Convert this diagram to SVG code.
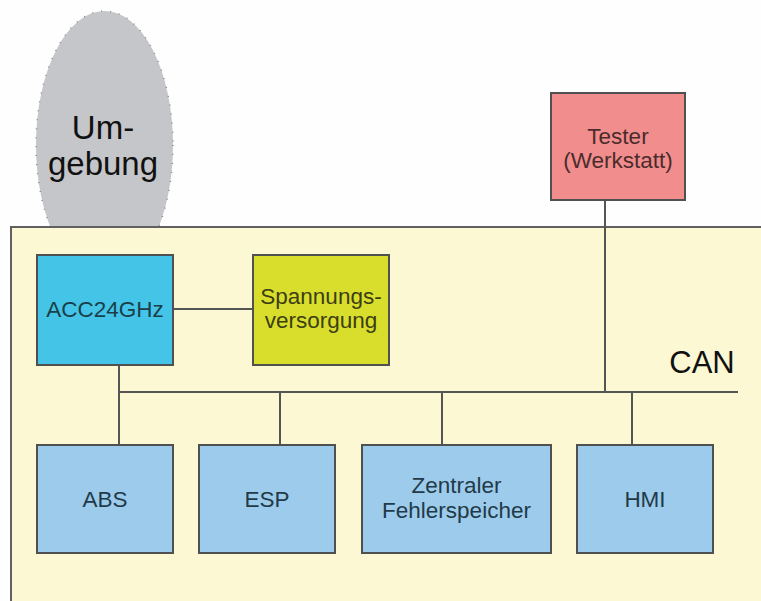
<svg xmlns="http://www.w3.org/2000/svg" width="761" height="601" viewBox="0 0 761 601">
  <style>
    .lbl { font-family: "Liberation Sans", Arial, sans-serif; font-size: 22.5px; text-anchor: middle; }
    .box { stroke: #505050; stroke-width: 2; }
    .ecu { fill: #9dcbec; }
    .wire { stroke: #555555; stroke-width: 2; fill: none; }
  </style>
  <rect width="761" height="601" fill="#fefefe"/>

  <!-- environment -->
  <g id="umgebung">
    <ellipse cx="104.5" cy="145" rx="68.5" ry="134" fill="#c5c6c9" stroke="#8a8a8a" stroke-width="1.5" stroke-dasharray="1 8"/>
    <text x="103" y="139" font-family="Liberation Sans, Arial, sans-serif" font-size="33" text-anchor="middle" fill="#111">Um-</text>
    <text x="103" y="175" font-family="Liberation Sans, Arial, sans-serif" font-size="33" text-anchor="middle" fill="#111">gebung</text>
  </g>

  <!-- vehicle area -->
  <g id="fahrzeug">
    <rect x="11" y="227" width="760" height="390" fill="#fbf8d3" stroke="#606060" stroke-width="2"/>
  </g>

  <g id="connectors">
    <line class="wire" x1="173" y1="309" x2="253" y2="309"/>
    <line class="wire" x1="119" y1="365" x2="119" y2="445"/>
    <line class="wire" x1="119" y1="392" x2="738" y2="392"/>
    <line class="wire" x1="605" y1="200" x2="605" y2="392"/>
    <line class="wire" x1="280" y1="392" x2="280" y2="445"/>
    <line class="wire" x1="442" y1="392" x2="442" y2="445"/>
    <line class="wire" x1="632" y1="392" x2="632" y2="445"/>
  </g>

  <g id="can-label">
    <text x="702" y="373" font-family="Liberation Sans, Arial, sans-serif" font-size="31" text-anchor="middle" fill="#111">CAN</text>
  </g>

  <g id="tester">
    <rect class="box" x="551" y="93" width="134" height="107" fill="#f28d8e"/>
    <text class="lbl" x="618" y="144" fill="#4a2c2c">Tester</text>
    <text class="lbl" x="618" y="168" fill="#4a2c2c">(Werkstatt)</text>
  </g>

  <g id="acc">
    <rect class="box" x="37" y="255" width="136" height="110" fill="#44c5e8"/>
    <text class="lbl" x="105" y="317" fill="#1b3f4a">ACC24GHz</text>
  </g>

  <g id="spannung">
    <rect class="box" x="253" y="255" width="136" height="110" fill="#d9de2d"/>
    <text class="lbl" x="321" y="304" fill="#3c3e12">Spannungs-</text>
    <text class="lbl" x="321" y="328" fill="#3c3e12">versorgung</text>
  </g>

  <g id="abs">
    <rect class="box ecu" x="37" y="445" width="136" height="108"/>
    <text class="lbl" x="105" y="507" fill="#223a48">ABS</text>
  </g>

  <g id="esp">
    <rect class="box ecu" x="199" y="445" width="136" height="108"/>
    <text class="lbl" x="267" y="507" fill="#223a48">ESP</text>
  </g>

  <g id="fehlerspeicher">
    <rect class="box ecu" x="362" y="445" width="189" height="108"/>
    <text class="lbl" x="456.5" y="493" fill="#223a48">Zentraler</text>
    <text class="lbl" x="456.5" y="518" fill="#223a48">Fehlerspeicher</text>
  </g>

  <g id="hmi">
    <rect class="box ecu" x="577" y="445" width="136" height="108"/>
    <text class="lbl" x="645" y="507" fill="#223a48">HMI</text>
  </g>
</svg>
